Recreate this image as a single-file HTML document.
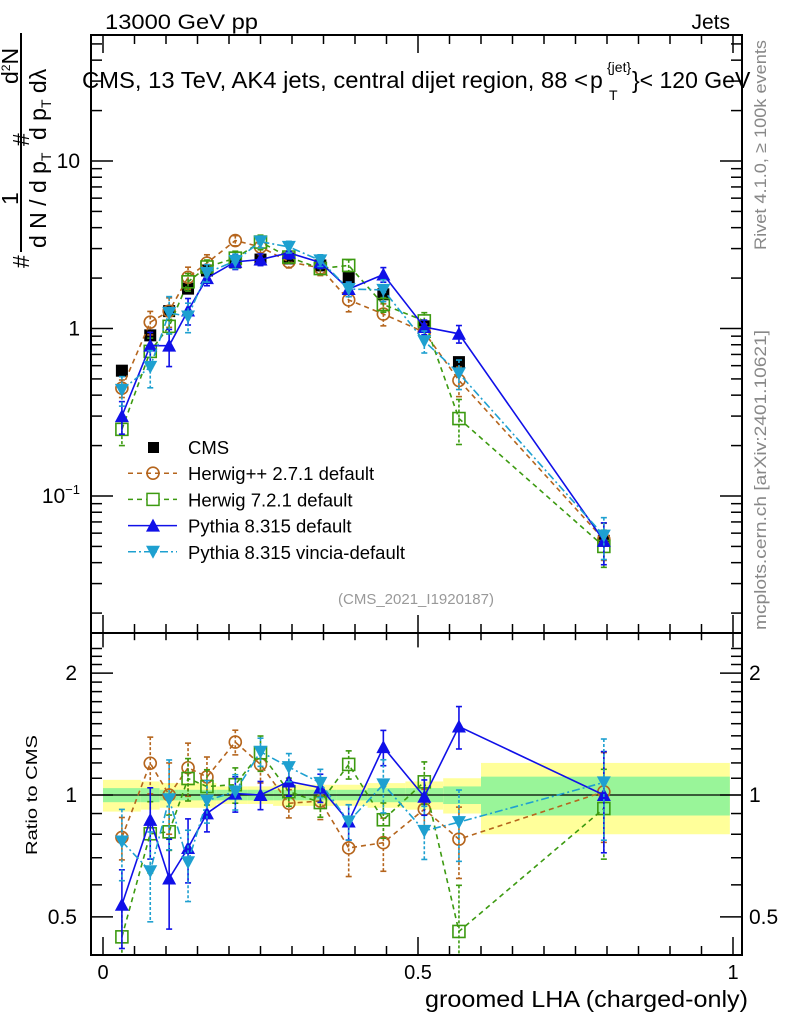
<!DOCTYPE html>
<html><head><meta charset="utf-8"><style>
html,body{margin:0;padding:0;background:#fff;}
svg{display:block;font-family:"Liberation Sans",sans-serif;}
</style></head><body>
<svg id="chart" width="786" height="1024" viewBox="0 0 786 1024">
<rect x="0" y="0" width="786" height="1024" fill="#fff"/>
<g id="bands"></g><g id="marks"></g><g id="axes"></g>
<text x="105" y="29" font-size="21" textLength="153" lengthAdjust="spacingAndGlyphs">13000 GeV pp</text>
<text x="730" y="29" font-size="21" text-anchor="end">Jets</text>
<g font-size="23">
<text x="82" y="88" textLength="506" lengthAdjust="spacingAndGlyphs">CMS, 13 TeV, AK4 jets, central dijet region, 88 &lt;</text>
<text x="590" y="88">p</text>
<text x="607" y="72" font-size="14">{jet}</text>
<text x="609" y="100" font-size="14">T</text>
<text x="632" y="88">}&lt; 120 GeV</text>
</g>
<text x="416" y="604" font-size="15" fill="#999" text-anchor="middle">(CMS_2021_I1920187)</text>
<text transform="translate(766,250) rotate(-90)" font-size="17" fill="#888" textLength="210" lengthAdjust="spacingAndGlyphs">Rivet 4.1.0, ≥ 100k events</text>
<text transform="translate(766,630) rotate(-90)" font-size="17" fill="#888" textLength="300" lengthAdjust="spacingAndGlyphs">mcplots.cern.ch [arXiv:2401.10621]</text>
<g font-size="23">
<text transform="translate(29,268) rotate(-90)">#</text>
<text transform="translate(18,205) rotate(-90)">1</text>
<line x1="21" y1="140" x2="21" y2="252" stroke="#000" stroke-width="2"/>
<text transform="translate(46,248) rotate(-90)">d N / d p<tspan font-size="14" dy="5">T</tspan></text>
<text transform="translate(29,146) rotate(-90)">#</text>
<text transform="translate(18,84) rotate(-90)">d<tspan font-size="12" dy="-8">2</tspan><tspan dy="8">N</tspan></text>
<line x1="21" y1="33" x2="21" y2="140" stroke="#000" stroke-width="2"/>
<text transform="translate(46,140) rotate(-90)">d p<tspan font-size="14" dy="5">T</tspan><tspan dy="-5">  dλ</tspan></text>
</g>
<text transform="translate(37,855) rotate(-90)" font-size="16" textLength="120" lengthAdjust="spacingAndGlyphs">Ratio to CMS</text>
<text x="748" y="1007" font-size="23" text-anchor="end" textLength="323" lengthAdjust="spacingAndGlyphs">groomed LHA (charged-only)</text>
</svg>
<script>
const xs=[0.03,0.075,0.105,0.135,0.165,0.21,0.25,0.295,0.345,0.39,0.445,0.51,0.565,0.795];
const cms=[0.56,0.91,1.27,1.73,2.22,2.48,2.58,2.62,2.38,2.0,1.6,1.03,0.63,0.054];
const cmsErr=[0.04,0.04,0.04,0.04,0.04,0.03,0.03,0.03,0.04,0.04,0.05,0.05,0.06,0.11];
const bandEdges=[0,0.06,0.09,0.12,0.15,0.18,0.23,0.27,0.32,0.37,0.42,0.48,0.54,0.6,0.995];
const bandGreen=[0.04,0.04,0.03,0.03,0.03,0.03,0.03,0.03,0.03,0.03,0.04,0.04,0.05,0.11];
const bandYellow=[0.09,0.08,0.07,0.07,0.07,0.05,0.05,0.06,0.06,0.06,0.07,0.08,0.10,0.20];
const herwigpp=[0.44,1.09,1.27,2.02,2.46,3.35,3.07,2.50,2.30,1.48,1.22,0.95,0.49,0.055];
const herwig7=[0.25,0.73,1.03,1.90,2.33,2.63,3.28,2.67,2.28,2.38,1.39,1.11,0.29,0.050];
const pythia=[0.30,0.79,0.79,1.28,2.0,2.5,2.58,2.83,2.48,1.72,2.10,1.02,0.93,0.054];
const vincia=[0.43,0.59,1.24,1.18,2.15,2.53,3.30,3.07,2.55,1.72,1.70,0.84,0.54,0.058];
const errHpp=[0.12,0.16,0.2,0.15,0.12,0.07,0.1,0.08,0.1,0.15,0.15,0.12,0.2,0.25];
const errH7=[0.2,0.2,0.1,0.12,0.1,0.1,0.1,0.08,0.08,0.08,0.1,0.12,0.3,0.25];
const errPy=[0.22,0.2,0.25,0.18,0.1,0.1,0.08,0.08,0.08,0.1,0.1,0.1,0.12,0.28];
const errVi=[0.2,0.25,0.25,0.2,0.12,0.1,0.08,0.08,0.08,0.1,0.15,0.15,0.2,0.28];
const seriesNames=["herwigpp","herwig7","pythia","vincia"];
const legendLabels=["CMS","Herwig++ 2.7.1 default","Herwig 7.2.1 default","Pythia 8.315 default","Pythia 8.315 vincia-default"];
const xTickLabels=["0","0.5","1"];

const NS="http://www.w3.org/2000/svg";
const L=91,R=742,T=35,MB=633,B=955;
const X=v=>103+630*v;
const Y=v=>161-167.5*(Math.log10(v)-1);
const RY=r=>795-405*Math.log10(r);
function mk(p,tag,at){const e=document.createElementNS(NS,tag);for(const k in at)e.setAttribute(k,at[k]);p.appendChild(e);return e;}
const bands=document.getElementById('bands'),marks=document.getElementById('marks'),axes=document.getElementById('axes');
const clip=mk(marks,'defs',{});
const c1=mk(clip,'clipPath',{id:'cTop'});mk(c1,'rect',{x:L,y:T,width:R-L,height:MB-T});
const c2=mk(clip,'clipPath',{id:'cBot'});mk(c2,'rect',{x:L,y:MB,width:R-L,height:B-MB});

for(let i=0;i<bandYellow.length;i++){
 const x0=X(bandEdges[i]),x1=X(bandEdges[i+1]);
 const y=mk(bands,'rect',{x:x0,y:RY(1+bandYellow[i]),width:x1-x0,height:RY(1-bandYellow[i])-RY(1+bandYellow[i]),fill:'#ffff9a'});
 
 
 const g=mk(bands,'rect',{x:x0,y:RY(1+bandGreen[i]),width:x1-x0,height:RY(1-bandGreen[i])-RY(1+bandGreen[i]),fill:'#99f599'});
 
 
}
mk(bands,'line',{x1:L,x2:R,y1:RY(1),y2:RY(1),stroke:'#000','stroke-width':1.3});

function marker(p,type,x,y,col){
 let e;
 if(type==='sq')e=mk(p,'rect',{x:x-6,y:y-6,width:12,height:12,fill:'#000'});
 else if(type==='osq')e=mk(p,'rect',{x:x-6,y:y-6,width:12,height:12,fill:'#fff','fill-opacity':0,stroke:col,'stroke-width':1.6});
 else if(type==='oc')e=mk(p,'circle',{cx:x,cy:y,r:6,fill:'none',stroke:col,'stroke-width':1.6});
 else if(type==='up')e=mk(p,'polygon',{points:`${x-7},${y+6} ${x+7},${y+6} ${x},${y-7}`,fill:col});
 else e=mk(p,'polygon',{points:`${x-7},${y-6} ${x+7},${y-6} ${x},${y+7}`,fill:col});
 return e;
}
const styles={
 herwigpp:{col:'#b5651d',dash:'5,4',m:'oc',err:errHpp,data:herwigpp},
 herwig7:{col:'#3c9a10',dash:'5,4',m:'osq',err:errH7,data:herwig7},
 pythia:{col:'#1010e8',dash:'none',m:'up',err:errPy,data:pythia},
 vincia:{col:'#1ea0d0',dash:'8,3,2,3',m:'dn',err:errVi,data:vincia}
};
function drawSeries(name,ratio){
 const s=styles[name];
 const g=mk(marks,'g',{'clip-path':ratio?'url(#cBot)':'url(#cTop)'});
 
 
 const vals=s.data.map((v,i)=>ratio?v/cms[i]:v);
 const F=ratio?RY:Y;
 mk(g,'polyline',{points:vals.map((v,i)=>X(xs[i])+','+F(v)).join(' '),fill:'none',stroke:s.col,'stroke-width':1.6,'stroke-dasharray':s.dash});
 vals.forEach((v,i)=>{
  const x=X(xs[i]),yh=F(v*(1+s.err[i])),yl=F(v*(1-s.err[i]));
  mk(g,'line',{x1:x,x2:x,y1:yh,y2:yl,stroke:s.col,'stroke-width':1.6,'stroke-dasharray':s.dash==='none'?'none':'3,2'});
  mk(g,'line',{x1:x-3,x2:x+3,y1:yh,y2:yh,stroke:s.col,'stroke-width':1.6});
  mk(g,'line',{x1:x-3,x2:x+3,y1:yl,y2:yl,stroke:s.col,'stroke-width':1.6});
  const m=marker(g,s.m,x,F(v),s.col);
  
  
 });
}
const cg=mk(marks,'g',{'clip-path':'url(#cTop)'});


cms.forEach((v,i)=>{
 const x=X(xs[i]);
 mk(cg,'line',{x1:x,x2:x,y1:Y(v*(1+cmsErr[i])),y2:Y(v*(1-cmsErr[i])),stroke:'#000','stroke-width':1.5});
 const m=marker(cg,'sq',x,Y(v),'#000');
 
 
});
seriesNames.forEach(n=>{drawSeries(n,false);drawSeries(n,true);});

const lg=mk(marks,'g',{});


const lk=['cms'].concat(seriesNames);
lk.forEach((k,i)=>{
 const y=447+26.2*i;
 const e=mk(lg,'g',{});
 
 
 if(k==='cms'){mk(e,'rect',{x:148,y:y-5,width:11,height:11,fill:'#000'});}
 else{const s=styles[k];
  mk(e,'line',{x1:128,x2:177,y1:y,y2:y,stroke:s.col,'stroke-width':1.5,'stroke-dasharray':s.dash});
  if(s.m==='osq')mk(e,'rect',{x:147,y:y-6,width:12,height:12,fill:'#fff',stroke:s.col,'stroke-width':1.5});
  else marker(e,s.m,153,y,s.col);}
 const t=mk(e,'text',{x:188,y:y+7,'font-size':18.5});t.textContent=legendLabels[i];
});

mk(axes,'rect',{x:L,y:T,width:R-L,height:MB-T,fill:'none',stroke:'#000','stroke-width':2});
mk(axes,'rect',{x:L,y:MB,width:R-L,height:B-MB,fill:'none',stroke:'#000','stroke-width':2});
function tick(x1,y1,x2,y2){mk(axes,'line',{x1,y1,x2,y2,stroke:'#000','stroke-width':1.5});}
for(let k=0;k<=20;k++){const v=k*0.05,x=X(v),len=(k%10===0)?18:9;
 tick(x,B,x,B-len);tick(x,MB,x,MB+len*0.8);tick(x,MB,x,MB-len);tick(x,T,x,T+len);}
xTickLabels.forEach((s,i)=>{const t=mk(axes,'text',{x:X(i*0.5),y:979,'font-size':20,'text-anchor':'middle'});t.textContent=s;
 
 });
for(let d=-2;d<=1;d++)for(let m=1;m<=9;m++){const v=m*Math.pow(10,d),y=Y(v);if(y<T||y>MB)continue;
 const len=m===1?22:11;tick(L,y,L+len,y);tick(R,y,R-len,y);}
[[10,'10'],[1,'1']].forEach(([v,s])=>{const t=mk(axes,'text',{x:80,y:Y(v)+7,'font-size':21,'text-anchor':'end'});t.textContent=s;
 
 });
const tm=mk(axes,'text',{x:80,y:Y(0.1)+7,'font-size':21,'text-anchor':'end'});tm.innerHTML='10<tspan font-size="13" dy="-9">−1</tspan>';


for(let v=0.4;v<=2.31;v+=0.1){const y=RY(v);if(y<MB||y>B)continue;
 const r=Math.round(v*10)/10;const maj=(r===0.5||r===1||r===2);const len=maj?22:11;tick(L,y,L+len,y);tick(R,y,R-len,y);}
[[2,'2'],[1,'1'],[0.5,'0.5']].forEach(([v,s])=>{
 const t=mk(axes,'text',{x:77,y:RY(v)+7,'font-size':21,'text-anchor':'end'});t.textContent=s;
 
 
 const t2=mk(axes,'text',{x:749,y:RY(v)+7,'font-size':21});t2.textContent=s;
 
 });
</script>
</body></html>
